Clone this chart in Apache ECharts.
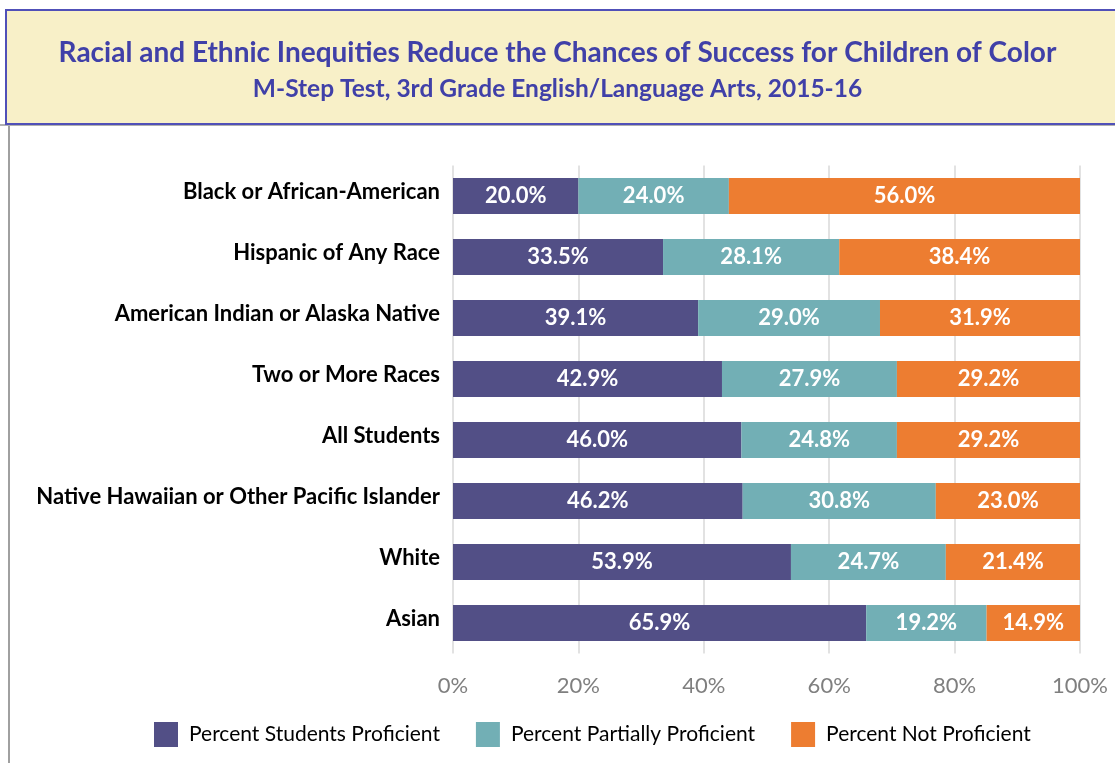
<!DOCTYPE html>
<html>
<head>
<meta charset="utf-8">
<script src="https://cdn.jsdelivr.net/npm/echarts@6/dist/echarts.min.js"></script>
<style>
  html, body { margin: 0; padding: 0; background: #ffffff; }
  #chart { width: 1115px; height: 763px; }
</style>
</head>
<body>
<div id="chart"></div>
<script>
// Groups, top to bottom
const groups = [
  'Black or African-American',
  'Hispanic of Any Race',
  'American Indian or Alaska Native',
  'Two or More Races',
  'All Students',
  'Native Hawaiian or Other Pacific Islander',
  'White',
  'Asian'
];
// Shares of 3rd graders by M-Step result (%)
const proficient          = [20.0, 33.5, 39.1, 42.9, 46.0, 46.2, 53.9, 65.9];
const partiallyProficient = [24.0, 28.1, 29.0, 27.9, 24.8, 30.8, 24.7, 19.2];
const notProficient       = [56.0, 38.4, 31.9, 29.2, 29.2, 23.0, 21.4, 14.9];
const seriesNames = ['Percent Students Proficient', 'Percent Partially Proficient', 'Percent Not Proficient'];
const xTicks = [0, 20, 40, 60, 80, 100];

const FONT = 'Lato, "Open Sans", sans-serif';
const colors = ['#524f86', '#72afb5', '#ed7d31'];

const chart = echarts.init(document.getElementById('chart'), null, { renderer: 'canvas' });

function barSeries(name, data, color) {
  return {
    name: name,
    type: 'bar',
    stack: 'total',
    data: data,
    barWidth: 36,
    itemStyle: { color: color },
    label: {
      show: true,
      position: 'inside',
      color: '#ffffff',
      fontFamily: FONT,
      fontWeight: 'bold',
      fontSize: 22,
      formatter: p => p.value.toFixed(1) + '%'
    }
  };
}

chart.setOption({
  animation: false,
  backgroundColor: '#ffffff',
  title: [
    {
      text: 'Racial and Ethnic Inequities Reduce the Chances of Success for Children of Color',
      left: 'center', top: 34,
      textStyle: { color: '#4040a8', fontFamily: FONT, fontWeight: 'bold', fontSize: 28 }
    },
    {
      text: 'M-Step Test, 3rd Grade English/Language Arts, 2015-16',
      left: 'center', top: 72,
      textStyle: { color: '#4040a8', fontFamily: FONT, fontWeight: 'bold', fontSize: 24.5 }
    }
  ],
  graphic: [
    {
      type: 'rect', z: -1,
      shape: { x: 0, y: 124, width: 1115, height: 2 },
      style: { fill: '#b0b0b0' }
    },
    {
      type: 'rect', z: -1,
      shape: { x: 6, y: 10, width: 1120, height: 114 },
      style: { fill: '#f8f0c8', stroke: '#5050b8', lineWidth: 2 }
    },
    {
      type: 'rect', z: -1,
      shape: { x: 8, y: 126, width: 2, height: 640 },
      style: { fill: '#a0a0a0' }
    }
  ],
  legend: {
    top: 717,
    left: 149,
    itemWidth: 24,
    itemHeight: 25,
    itemGap: 36,
    icon: 'rect',
    textStyle: { color: '#000000', fontFamily: FONT, fontSize: 21, padding: [0, 0, 0, 6] },
    data: seriesNames
  },
  grid: { left: 453, right: 35, top: 165.5, bottom: 109.5, containLabel: false },
  xAxis: {
    type: 'value',
    min: 0, max: 100, interval: 20,
    axisLine: { show: false },
    axisTick: { show: false },
    splitLine: { show: true, lineStyle: { color: '#d9d9d9', width: 1.5 } },
    axisLabel: {
      color: '#7f7f7f', fontFamily: FONT, fontSize: 22, margin: 21,
      formatter: v => xTicks.includes(v) ? v + '%' : ''
    }
  },
  yAxis: {
    type: 'category',
    inverse: true,
    data: groups,
    axisLine: { show: false },
    axisTick: { show: false },
    axisLabel: {
      margin: 13,
      formatter: v => '{g|' + v + '}',
      rich: {
        g: {
          color: '#000000', fontFamily: FONT, fontWeight: 'bold', fontSize: 22,
          padding: [0, 0, 8, 0]
        }
      }
    }
  },
  series: [
    barSeries(seriesNames[0], proficient, colors[0]),
    barSeries(seriesNames[1], partiallyProficient, colors[1]),
    barSeries(seriesNames[2], notProficient, colors[2])
  ]
});
</script>
</body>
</html>
